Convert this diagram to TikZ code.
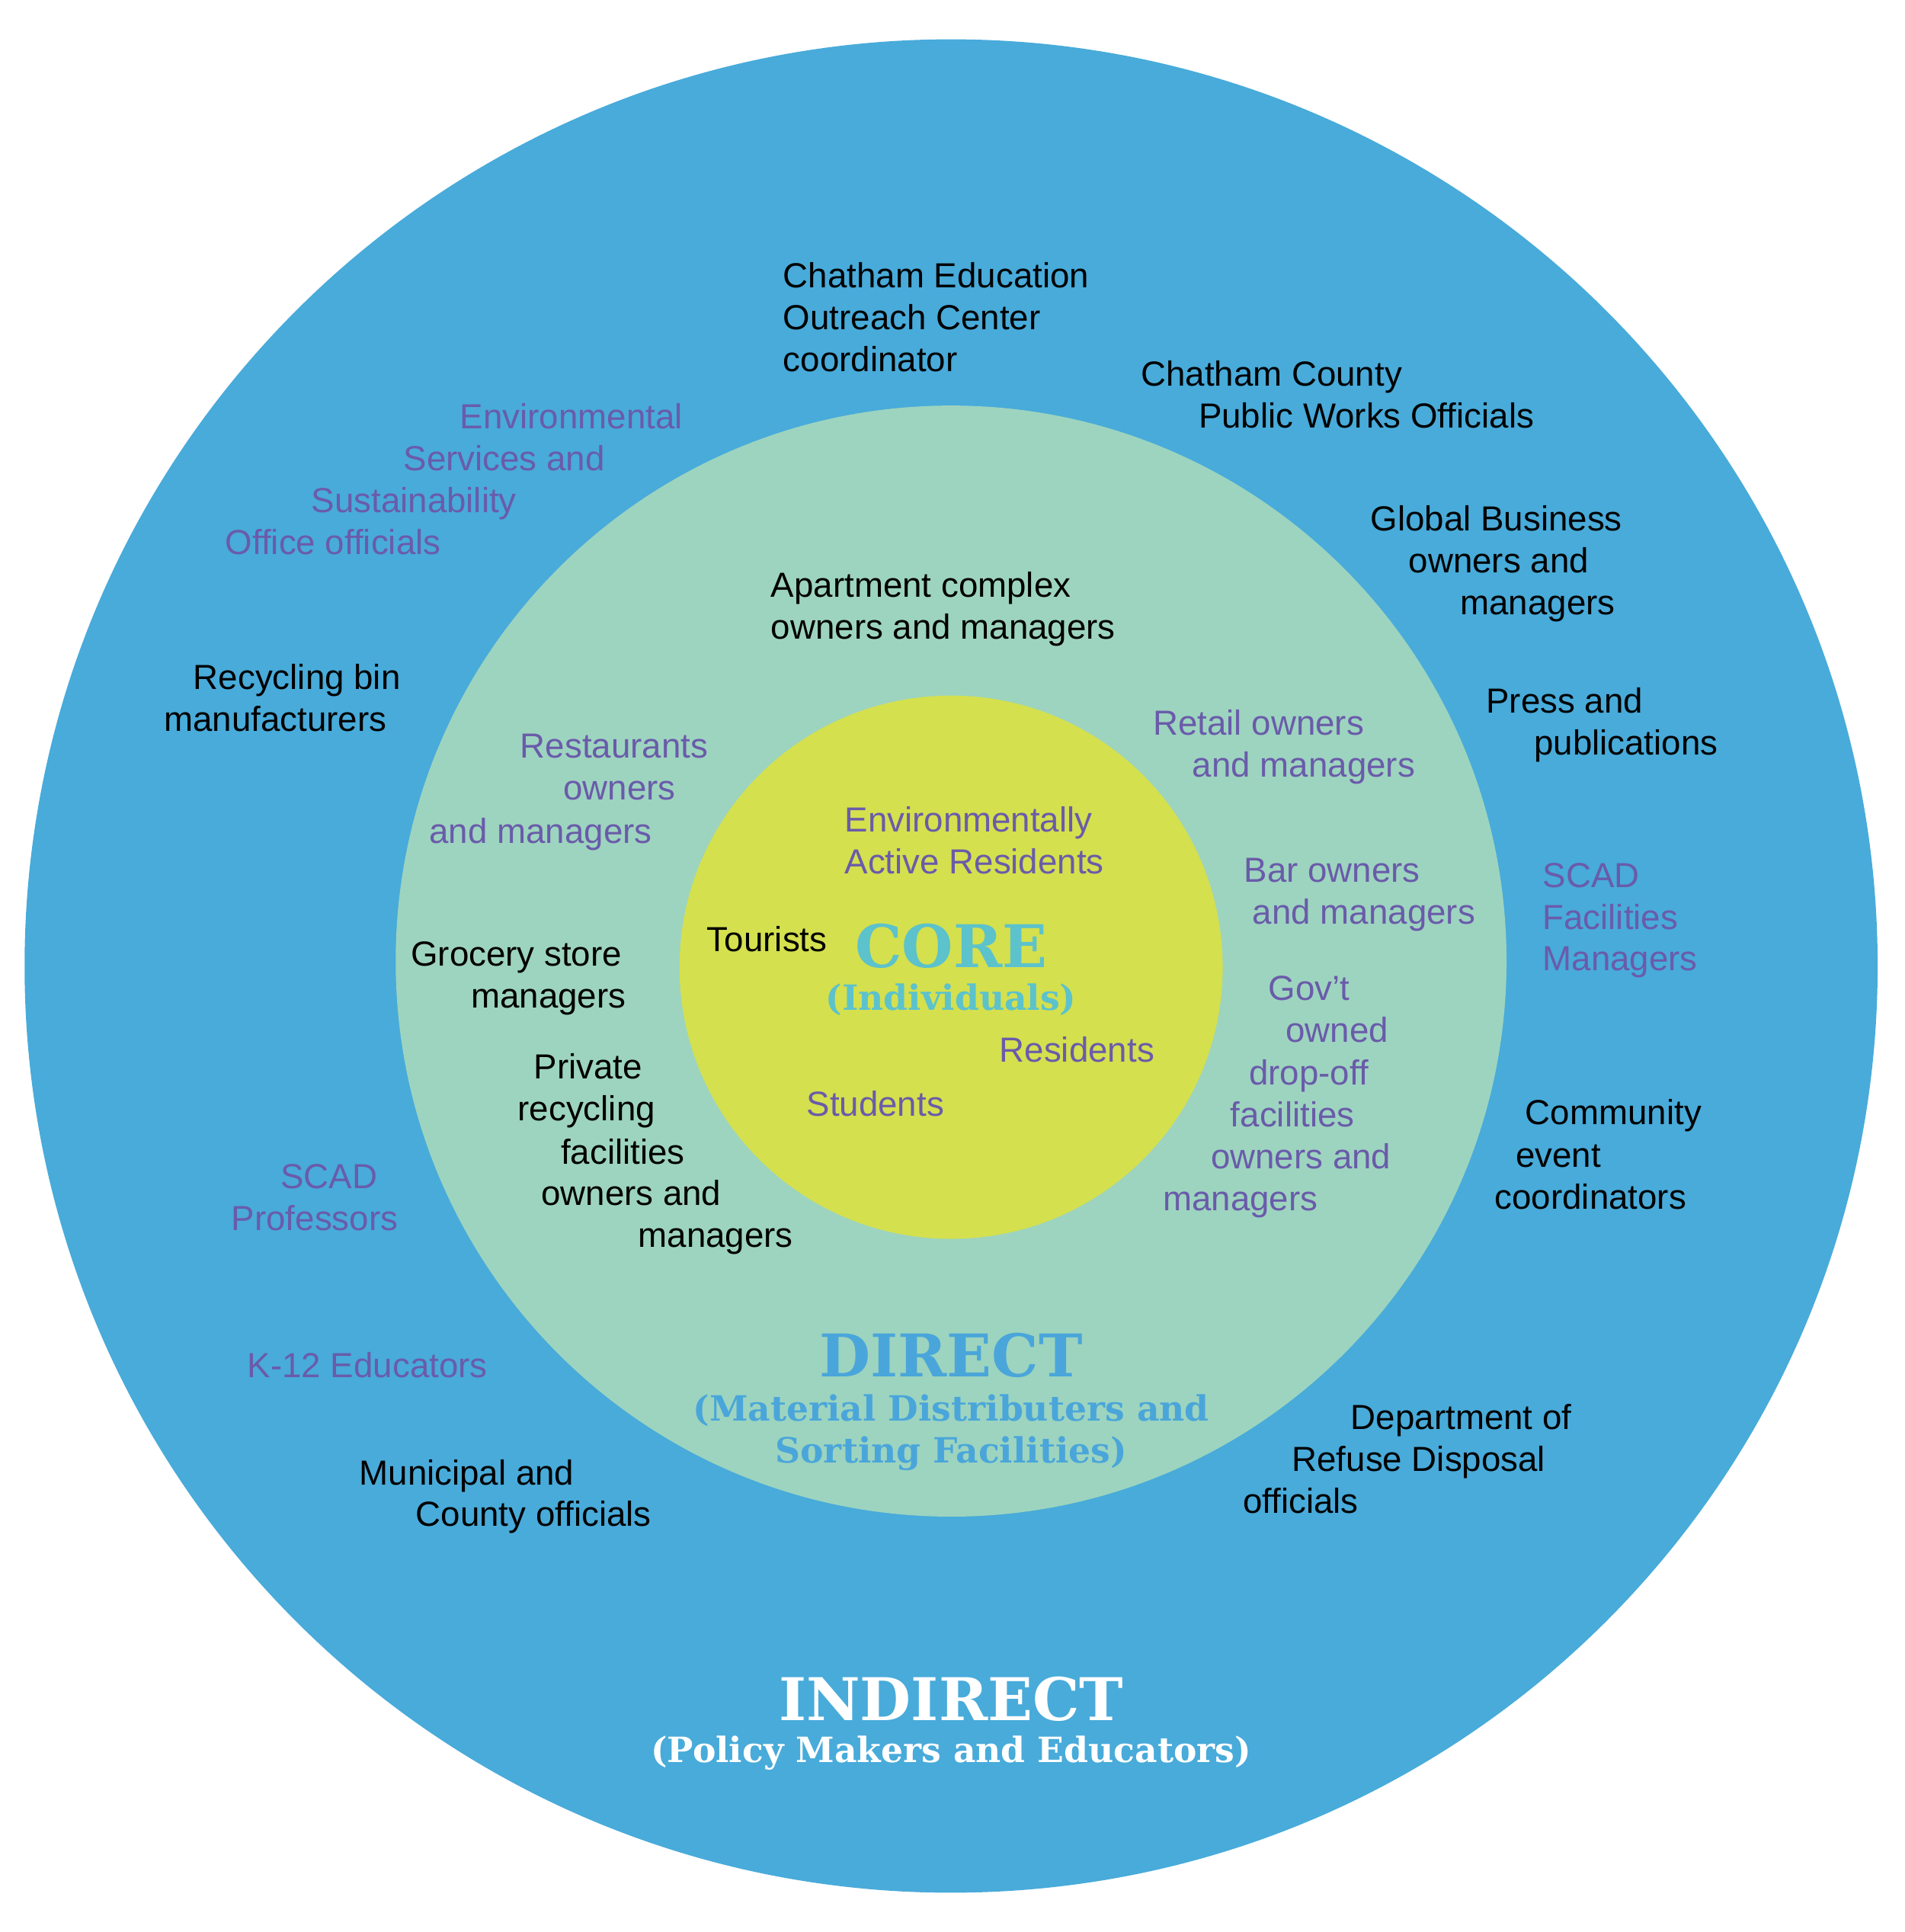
\documentclass[tikz,border=0pt]{standalone}
\usepackage{fontspec}
\setmainfont{Liberation Sans}
\newfontfamily\headfont{DejaVu Serif}
\definecolor{outerblue}{HTML}{48ABDA}
\definecolor{midgreen}{HTML}{9DD4BF}
\definecolor{coreyellow}{HTML}{D4E04E}
\definecolor{purp}{HTML}{6A5BAA}
\definecolor{coreteal}{HTML}{5CC2CC}
\definecolor{directblue}{HTML}{4AA6DA}
\tikzset{
  tx/.style={anchor=base west,inner sep=0pt,font=\fontsize{13}{15}\selectfont},
  bk/.style={tx,text=black},
  pu/.style={tx,text=purp},
  hbig/.style={anchor=base,inner sep=0pt,font=\headfont\bfseries\fontsize{22}{24}\selectfont},
  hsmall/.style={anchor=base,inner sep=0pt,font=\headfont\bfseries\fontsize{13}{15}\selectfont},
}
\newcommand\tline[4]{\node[#1] at (#2,#3) {#4};}
\begin{document}
\begin{tikzpicture}[x=0.016129cm,y=-0.016129cm]
\useasboundingbox (0,0) rectangle (1550,1572);
\fill[outerblue] (774,786) circle[radius=754];
\fill[midgreen] (774,782) circle[radius=452];
\fill[coreyellow] (774,787) circle[radius=221];
\node[coordinate] (ctr) at (774,786) {};
% headings
\node[hbig,text=coreteal] (core) at (774,787) {CORE};
\node[hsmall,text=coreteal] (corei) at (774,822) {(Individuals)};
\node[hbig,text=directblue] (direct) at (774,1120) {DIRECT};
\node[hsmall,text=directblue] (direct1) at (774,1156) {(Material Distributers and};
\node[hsmall,text=directblue] (direct2) at (774,1190) {Sorting Facilities)};
\node[hbig,text=white] (indirect) at (774,1400) {INDIRECT};
\node[hsmall,text=white] (indirect1) at (774,1434) {(Policy Makers and Educators)};
% text lines
\tline{bk}{637}{234}{Chatham Education}
\tline{bk}{637}{268}{Outreach Center}
\tline{bk}{637}{302}{coordinator}
\tline{bk}{928}{314}{Chatham County}
\tline{bk}{975}{348}{Public Works Officials}
\tline{pu}{374}{349}{Environmental}
\tline{pu}{328}{383}{Services and}
\tline{pu}{253}{417}{Sustainability}
\tline{pu}{183}{451}{Office officials}
\tline{bk}{1115}{432}{Global Business}
\tline{bk}{1146}{466}{owners and}
\tline{bk}{1188}{500}{managers}
\tline{bk}{627}{486}{Apartment complex}
\tline{bk}{627}{520}{owners and managers}
\tline{bk}{157}{561}{Recycling bin}
\tline{bk}{133}{595}{manufacturers}
\tline{bk}{1209}{580}{Press and}
\tline{bk}{1248}{614}{publications}
\tline{pu}{938}{598}{Retail owners}
\tline{pu}{970}{632}{and managers}
\tline{pu}{423}{617}{Restaurants}
\tline{pu}{458}{651}{owners}
\tline{pu}{349}{686}{and managers}
\tline{pu}{687}{677}{Environmentally}
\tline{pu}{687}{711}{Active Residents}
\tline{pu}{1012}{718}{Bar owners}
\tline{pu}{1019}{752}{and managers}
\tline{pu}{1255}{722}{SCAD}
\tline{pu}{1255}{756}{Facilities}
\tline{pu}{1255}{790}{Managers}
\tline{bk}{575}{774}{Tourists}
\tline{bk}{334}{786}{Grocery store}
\tline{bk}{383}{820}{managers}
\tline{pu}{1032}{814}{Gov’t}
\tline{pu}{1046}{848}{owned}
\tline{pu}{1016}{883}{drop-off}
\tline{pu}{1001}{917}{facilities}
\tline{pu}{985}{951}{owners and}
\tline{pu}{946}{985}{managers}
\tline{pu}{813}{864}{Residents}
\tline{bk}{434}{878}{Private}
\tline{bk}{421}{912}{recycling}
\tline{bk}{456}{947}{facilities}
\tline{bk}{440}{981}{owners and}
\tline{bk}{519}{1015}{managers}
\tline{pu}{656}{908}{Students}
\tline{bk}{1241}{915}{Community}
\tline{bk}{1233}{950}{event}
\tline{bk}{1216}{984}{coordinators}
\tline{pu}{228}{967}{SCAD}
\tline{pu}{188}{1001}{Professors}
\tline{pu}{201}{1121}{K-12 Educators}
\tline{bk}{1099}{1163}{Department of}
\tline{bk}{1051}{1197}{Refuse Disposal}
\tline{bk}{1011}{1231}{officials}
\tline{bk}{292}{1208}{Municipal and}
\tline{bk}{338}{1242}{County officials}
\end{tikzpicture}
\end{document}
